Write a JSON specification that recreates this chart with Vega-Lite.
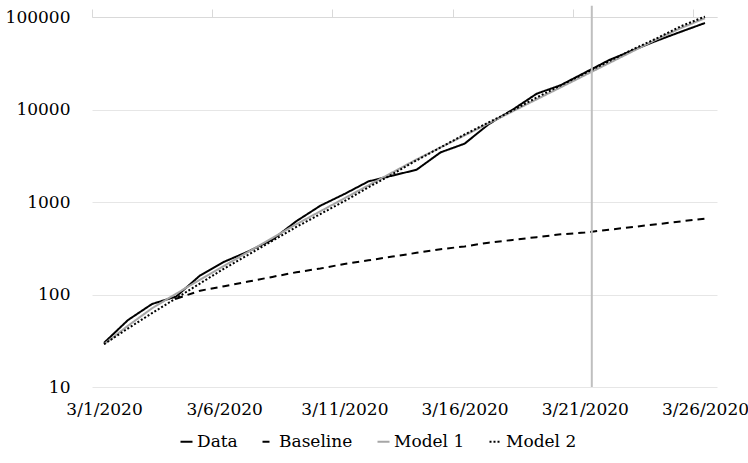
{
  "$schema": "https://vega.github.io/schema/vega-lite/v6.json",
  "width": 625,
  "height": 370,
  "autosize": {"type": "none"},
  "padding": {"left": 92, "top": 17, "right": 31, "bottom": 76},
  "background": "white",
  "config": {
    "view": {"stroke": null},
    "font": "DejaVu Serif",
    "axis": {"labelFont": "DejaVu Serif", "labelFontSize": 17, "labelColor": "#000000"},
    "legend": {"labelFont": "DejaVu Serif", "labelFontSize": 17, "labelColor": "#000000"}
  },
  "resolve": {"axis": {"x": "independent"}},
  "layer": [
    {
      "data": {
        "values": [
          {"date": "2020-03-01T00:00", "Data": 30, "Baseline": null, "Model 1": 29, "Model 2": 29},
          {"date": "2020-03-02T00:00", "Data": 53, "Baseline": null, "Model 1": 46, "Model 2": 43},
          {"date": "2020-03-03T00:00", "Data": 79, "Baseline": null, "Model 1": 71, "Model 2": 63},
          {"date": "2020-03-04T00:00", "Data": 95, "Baseline": 90, "Model 1": 102, "Model 2": 91},
          {"date": "2020-03-05T00:00", "Data": 161, "Baseline": 110, "Model 1": 145, "Model 2": 132},
          {"date": "2020-03-06T00:00", "Data": 226, "Baseline": 123, "Model 1": 204, "Model 2": 191},
          {"date": "2020-03-07T00:00", "Data": 292, "Baseline": 138, "Model 1": 288, "Model 2": 269},
          {"date": "2020-03-08T00:00", "Data": 391, "Baseline": 155, "Model 1": 407, "Model 2": 380},
          {"date": "2020-03-09T00:00", "Data": 620, "Baseline": 174, "Model 1": 575, "Model 2": 537},
          {"date": "2020-03-10T00:00", "Data": 912, "Baseline": 191, "Model 1": 794, "Model 2": 741},
          {"date": "2020-03-11T00:00", "Data": 1220, "Baseline": 214, "Model 1": 1096, "Model 2": 1023},
          {"date": "2020-03-12T00:00", "Data": 1670, "Baseline": 234, "Model 1": 1514, "Model 2": 1445},
          {"date": "2020-03-13T00:00", "Data": 1930, "Baseline": 257, "Model 1": 2089, "Model 2": 1995},
          {"date": "2020-03-14T00:00", "Data": 2230, "Baseline": 282, "Model 1": 2884, "Model 2": 2818},
          {"date": "2020-03-15T00:00", "Data": 3440, "Baseline": 309, "Model 1": 3890, "Model 2": 3890},
          {"date": "2020-03-16T00:00", "Data": 4270, "Baseline": 331, "Model 1": 5248, "Model 2": 5370},
          {"date": "2020-03-17T00:00", "Data": 6930, "Baseline": 363, "Model 1": 7079, "Model 2": 7244},
          {"date": "2020-03-18T00:00", "Data": 9950, "Baseline": 389, "Model 1": 9550, "Model 2": 9772},
          {"date": "2020-03-19T00:00", "Data": 14820, "Baseline": 417, "Model 1": 12882, "Model 2": 13490},
          {"date": "2020-03-20T00:00", "Data": 18330, "Baseline": 447, "Model 1": 17378, "Model 2": 18197},
          {"date": "2020-03-21T00:00", "Data": 25000, "Baseline": 468, "Model 1": 23442, "Model 2": 24547},
          {"date": "2020-03-22T00:00", "Data": 34100, "Baseline": 501, "Model 1": 31623, "Model 2": 33113},
          {"date": "2020-03-23T00:00", "Data": 43700, "Baseline": 537, "Model 1": 42658, "Model 2": 44668},
          {"date": "2020-03-24T00:00", "Data": 55500, "Baseline": 575, "Model 1": 57544, "Model 2": 58884},
          {"date": "2020-03-25T00:00", "Data": 69300, "Baseline": 617, "Model 1": 75858, "Model 2": 79433},
          {"date": "2020-03-26T00:00", "Data": 86100, "Baseline": 661, "Model 1": 97000, "Model 2": 101000}
        ]
      },
      "transform": [{"fold": ["Data", "Baseline", "Model 1", "Model 2"], "as": ["series", "value"]}],
      "mark": {"type": "line", "strokeWidth": 2, "clip": false},
      "encoding": {
        "x": {
          "field": "date",
          "type": "temporal",
          "scale": {
            "domain": [
              {"year": 2020, "month": 2, "date": 29, "hours": 12},
              {"year": 2020, "month": 3, "date": 26, "hours": 12}
            ]
          },
          "axis": {
            "title": null,
            "values": [
              {"year": 2020, "month": 3, "date": 1},
              {"year": 2020, "month": 3, "date": 6},
              {"year": 2020, "month": 3, "date": 11},
              {"year": 2020, "month": 3, "date": 16},
              {"year": 2020, "month": 3, "date": 21},
              {"year": 2020, "month": 3, "date": 26}
            ],
            "format": "%-m/%-d/%Y",
            "ticks": false,
            "tickSize": 0,
            "domain": false,
            "grid": false,
            "labelPadding": 14,
            "labelFlush": false,
            "labelBound": false,
            "labelOverlap": false
          }
        },
        "y": {
          "field": "value",
          "type": "quantitative",
          "scale": {"type": "log", "domain": [10, 100000], "nice": false},
          "axis": {
            "title": null,
            "values": [10, 100, 1000, 10000, 100000],
            "format": "d",
            "grid": true,
            "gridColor": "#e6e6e6",
            "gridWidth": 1,
            "domain": false,
            "ticks": false,
            "labelPadding": 22
          }
        },
        "color": {
          "field": "series",
          "type": "nominal",
          "sort": null,
          "scale": {
            "domain": ["Data", "Baseline", "Model 1", "Model 2"],
            "range": ["#000000", "#000000", "#a6a6a6", "#000000"]
          },
          "legend": {
            "title": null,
            "orient": "none",
            "legendX": 86,
            "legendY": 416,
            "direction": "horizontal",
            "symbolType": "stroke",
            "symbolSize": 144,
            "symbolStrokeWidth": 2,
            "labelOffset": 2,
            "columnPadding": 20
          }
        },
        "strokeDash": {
          "field": "series",
          "type": "nominal",
          "sort": null,
          "scale": {
            "domain": ["Data", "Baseline", "Model 1", "Model 2"],
            "range": [[1, 0], [7, 5], [1, 0], [2, 2]]
          },
          "legend": {
            "title": null,
            "orient": "none",
            "legendX": 86,
            "legendY": 416,
            "direction": "horizontal",
            "symbolType": "stroke",
            "symbolSize": 144,
            "symbolStrokeWidth": 2,
            "labelOffset": 2,
            "columnPadding": 20
          }
        }
      }
    },
    {
      "data": {"values": [{"date": "2020-03-21T07:00"}]},
      "mark": {"type": "rule", "color": "#bfbfbf", "strokeWidth": 2, "clip": false},
      "encoding": {
        "x": {
          "field": "date",
          "type": "temporal",
          "axis": {
            "title": null,
            "values": [
              {"year": 2020, "month": 2, "date": 29, "hours": 12},
              {"year": 2020, "month": 3, "date": 5, "hours": 12},
              {"year": 2020, "month": 3, "date": 10, "hours": 12},
              {"year": 2020, "month": 3, "date": 15, "hours": 12},
              {"year": 2020, "month": 3, "date": 20, "hours": 12},
              {"year": 2020, "month": 3, "date": 25, "hours": 12}
            ],
            "labels": false,
            "ticks": true,
            "tickSize": 8,
            "tickColor": "#d9d9d9",
            "domain": true,
            "domainColor": "#d9d9d9",
            "grid": false
          }
        },
        "y": {"datum": 132000, "type": "quantitative"},
        "y2": {"datum": 10}
      }
    }
  ]
}
